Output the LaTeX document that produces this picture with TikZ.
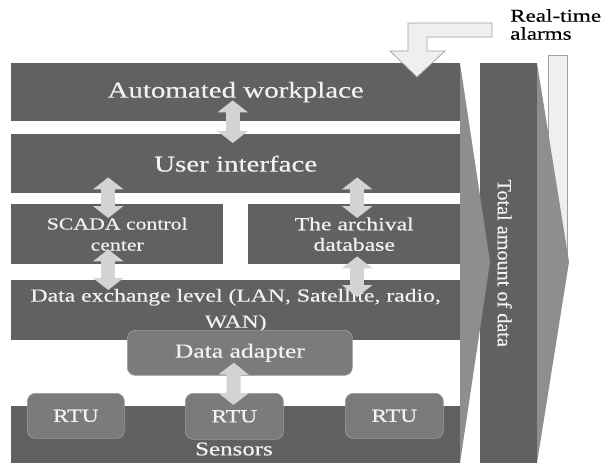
\documentclass[tikz,border=0pt]{standalone}
\usepackage{fontspec}
\setmainfont{Liberation Serif}[FakeStretch=1.28,FakeBold=0.4]
\newfontfamily\vertfont{Liberation Serif}[FakeBold=0.4]
\usetikzlibrary{arrows.meta,calc}
\definecolor{band}{HTML}{616161}
\definecolor{chev}{HTML}{8E8E8E}
\definecolor{unit}{HTML}{7B7B7B}
\definecolor{unitedge}{HTML}{9C9C9C}
\definecolor{arr}{HTML}{D3D3D3}
\definecolor{txt}{HTML}{F2F2F2}
\definecolor{alarm}{HTML}{EFEFEF}
\definecolor{alarmedge}{HTML}{A0A0A0}
\begin{document}
\begin{tikzpicture}[x=1pt,y=-1pt,
  bandbox/.style={fill=band, draw=none, anchor=north west, inner sep=0pt, text=txt, align=center},
  unitbox/.style={fill=unit, draw=unitedge, line width=0.7pt, rounded corners=8pt, anchor=north west, inner sep=0pt, text=txt, align=center},
  dblarrow/.style={draw=arr, line width=14pt, {Triangle[width=30pt,length=12pt]}-{Triangle[width=30pt,length=12pt]}},
  bigfont/.style={font=\fontsize{22.6}{27}\selectfont},
]
\useasboundingbox (0,0) rectangle (605,463);

% alarm strip behind right chevron
\filldraw[fill=alarm, draw=alarmedge, line width=0.7pt] (548,55) rectangle (567,262);

% right column
\node[bandbox, minimum width=57pt, minimum height=400pt] (total) at (480,63) {};
\fill[chev] (537,63) -- (569,262) -- (537,463) -- cycle;

% left chevron
\fill[chev] (460,63) -- (490,262) -- (460,463) -- cycle;

% bands
\node[bandbox, bigfont, minimum width=449pt, minimum height=58pt] (aw) at (11,63) {Automated workplace};
\node[bandbox, bigfont, minimum width=449pt, minimum height=59pt] (ui) at (11,134) {User interface};
\node[bandbox, font=\fontsize{17}{21}\selectfont, minimum width=212pt, minimum height=60pt] (scada) at (11,204) {SCADA control\\center};
\node[bandbox, font=\fontsize{18.5}{20.5}\selectfont, minimum width=212pt, minimum height=60pt] (arch) at (248,204) {The archival\\database};
\node[bandbox, font=\fontsize{18.5}{26}\selectfont, minimum width=449pt, minimum height=60pt] (dx) at (11,280) {Data exchange level (LAN, Satellite, radio,\\WAN)};
\node[bandbox, minimum width=449pt, minimum height=57pt] (sens) at (11,406) {};

% units
\node[unitbox, font=\fontsize{20}{24}\selectfont, minimum width=225pt, minimum height=45pt] (da) at (127,330) {Data adapter};
\node[unitbox, font=\fontsize{18.4}{22}\selectfont, minimum width=97pt, minimum height=45pt] (rtu1) at (27,393) {RTU};
\node[unitbox, font=\fontsize{18.4}{22}\selectfont, minimum width=98pt, minimum height=46pt] (rtu2) at (185,393) {RTU};
\node[unitbox, font=\fontsize{18.4}{22}\selectfont, minimum width=98pt, minimum height=45pt] (rtu3) at (345,393) {RTU};
\node[text=txt, font=\fontsize{19.5}{23}\selectfont, inner sep=0pt] (senslbl) at (234,449) {Sensors};

% vertical label
\node[text=txt, rotate=-90, font=\vertfont\fontsize{20.2}{24}\selectfont, inner sep=0pt] (totallbl) at ($(total.center)+(-4,0)$) {Total amount of data};

% double arrows
\draw[dblarrow] ($(aw.south)+(-3,-21)$) -- ($(ui.north)+(-3,9)$);
\draw[dblarrow] ($(scada.north |- ui.south)+(-9,-16)$) -- ($(scada.north)+(-9,14)$);
\draw[dblarrow] ($(arch.north |- ui.south)+(3,-16)$) -- ($(arch.north)+(3,14)$);
\draw[dblarrow] ($(scada.south)+(-9,-15)$) -- ($(scada.south |- dx.north)+(-9,10)$);
\draw[dblarrow] ($(arch.south)+(3,-8)$) -- ($(arch.south |- dx.north)+(3,17)$);
\draw[dblarrow] ($(da.south)+(-6,-13)$) -- ($(rtu2.north)+(-1,12)$);

% real-time alarms bent arrow
\filldraw[fill=alarm, draw=alarmedge, line width=0.7pt, line join=miter]
  (492,23) -- (408,23) -- (408,51) -- (390,51) -- (417,77) -- (445,51) -- (427,51) -- (427,37) -- (492,37) -- cycle;
\node[anchor=north west, align=left, inner sep=0pt, font=\fontsize{18}{18}\selectfont] (alarmlbl) at (510,9) {Real-time\\alarms};
\end{tikzpicture}
\end{document}
